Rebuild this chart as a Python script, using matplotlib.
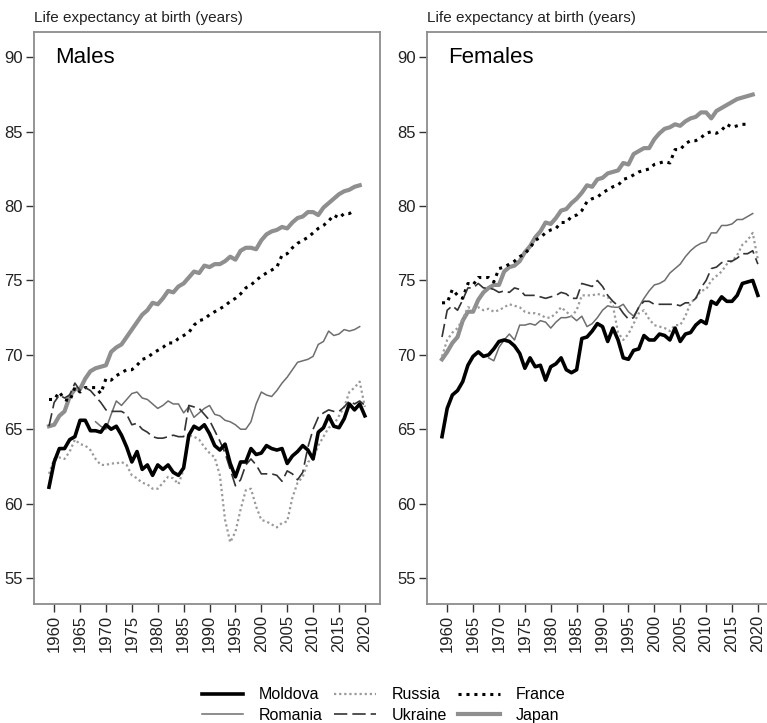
import numpy as np
import matplotlib
matplotlib.use('Agg')
import matplotlib.pyplot as plt

plt.rcParams['font.family'] = ['Liberation Sans', 'DejaVu Sans']

years = np.arange(1959, 2021)
years_ro = np.arange(1968, 2020)

# ---- Males ----
moldova_m = [61.1, 62.8, 63.7, 63.7, 64.3, 64.5, 65.6, 65.6, 64.9, 64.9, 64.8, 65.3, 65.0, 65.2,
             64.6, 63.8, 62.8, 63.5, 62.3, 62.6, 61.9, 62.6, 62.3, 62.6, 62.1, 61.9, 62.4, 64.6,
             65.2, 65.0, 65.3, 64.7, 63.9, 63.6, 64.0, 62.7, 61.8, 62.8, 62.8, 63.7, 63.3, 63.4,
             63.9, 63.7, 63.6, 63.7, 62.7, 63.2, 63.5, 63.9, 63.6, 63.0, 64.8, 65.1, 65.9, 65.2,
             65.1, 65.7, 66.7, 66.3, 66.7, 65.9]
romania_m = [65.5, 65.2, 65.0, 66.0, 66.9, 66.6, 67.0, 67.4, 67.5, 67.1, 67.0, 66.7, 66.4, 66.6,
             66.9, 66.7, 66.7, 66.1, 66.5, 65.8, 66.1, 66.4, 66.6, 66.0, 65.9, 65.6, 65.5, 65.3,
             65.0, 65.0, 65.5, 66.7, 67.5, 67.3, 67.2, 67.6, 68.1, 68.5, 69.0, 69.5, 69.6, 69.7,
             69.9, 70.7, 70.9, 71.6, 71.3, 71.4, 71.7, 71.6, 71.7, 71.9]
russia_m = [62.0, 63.0, 63.1, 63.0, 63.5, 64.3, 64.0, 63.9, 63.6, 63.0, 62.6, 62.6, 62.7, 62.7,
            62.8, 62.6, 61.9, 61.7, 61.4, 61.3, 61.0, 61.0, 61.4, 61.8, 61.7, 61.3, 62.3, 64.6,
            64.5, 64.3, 63.8, 63.4, 63.1, 61.9, 58.9, 57.4, 58.1, 59.6, 60.9, 61.0, 59.8, 58.9,
            58.8, 58.6, 58.4, 58.7, 58.8, 60.4, 61.4, 61.8, 62.8, 63.0, 63.9, 64.5, 65.1, 65.3,
            65.9, 66.5, 67.5, 67.8, 68.2, 66.5]
ukraine_m = [65.2, 66.8, 67.3, 67.1, 67.3, 68.1, 67.6, 67.8, 67.6, 67.2, 66.8, 66.3, 66.2, 66.2,
             66.2, 66.0, 65.3, 65.4, 65.0, 64.8, 64.5, 64.4, 64.4, 64.5, 64.6, 64.5, 64.5, 66.6,
             66.5, 66.4, 66.0, 65.6, 64.9, 64.2, 63.4, 62.3, 61.2, 61.6, 62.6, 63.0, 62.6, 62.0,
             62.0, 62.0, 61.9, 61.5, 62.2, 62.0, 61.6, 62.1, 63.8, 65.0, 65.8, 66.1, 66.3, 66.2,
             66.2, 66.5, 66.9, 66.7, 66.9, 66.6]
france_m = [67.0, 67.0, 67.5, 67.0, 66.9, 67.8, 67.5, 67.8, 67.8, 67.8, 67.4, 68.4, 68.3, 68.6,
            68.8, 69.0, 69.0, 69.3, 69.7, 69.8, 70.1, 70.3, 70.5, 70.8, 70.8, 71.1, 71.3, 71.5,
            72.0, 72.3, 72.4, 72.7, 72.9, 73.1, 73.3, 73.6, 73.8, 74.1, 74.5, 74.7, 75.0, 75.3,
            75.5, 75.7, 75.9, 76.7, 76.8, 77.2, 77.5, 77.7, 77.9, 78.2, 78.5, 78.7, 79.0, 79.4,
            79.2, 79.5, 79.5, 79.7]
japan_m = [65.2, 65.3, 65.9, 66.2, 67.2, 67.7, 67.7, 68.4, 68.9, 69.1, 69.2, 69.3, 70.2, 70.5,
           70.7, 71.2, 71.7, 72.2, 72.7, 73.0, 73.5, 73.4, 73.8, 74.3, 74.2, 74.6, 74.8, 75.2,
           75.6, 75.5, 76.0, 75.9, 76.1, 76.1, 76.3, 76.6, 76.4, 77.0, 77.2, 77.2, 77.1, 77.7,
           78.1, 78.3, 78.4, 78.6, 78.5, 78.9, 79.2, 79.3, 79.6, 79.6, 79.4, 79.9, 80.2, 80.5,
           80.8, 81.0, 81.1, 81.3, 81.4]

# ---- Females ----
moldova_f = [64.5, 66.4, 67.3, 67.6, 68.2, 69.3, 69.9, 70.2, 69.9, 70.0, 70.4, 70.9, 71.0, 70.9,
             70.6, 70.1, 69.1, 69.8, 69.2, 69.3, 68.3, 69.2, 69.4, 69.8, 69.0, 68.8, 69.0, 71.1,
             71.2, 71.6, 72.1, 71.9, 70.9, 71.8, 71.0, 69.8, 69.7, 70.3, 70.4, 71.3, 71.0, 71.0,
             71.4, 71.3, 71.0, 71.8, 70.9, 71.4, 71.5, 72.0, 72.3, 72.1, 73.6, 73.4, 73.9, 73.6,
             73.6, 74.0, 74.8, 74.9, 75.0, 74.0]
romania_f = [69.8, 69.6, 70.5, 71.0, 71.4, 71.0, 72.0, 72.0, 72.1, 72.0, 72.3, 72.2, 71.8, 72.2,
             72.5, 72.5, 72.6, 72.3, 72.6, 71.9, 72.1, 72.5, 73.0, 73.3, 73.2, 73.2, 73.4, 72.9,
             72.6, 73.2, 73.8, 74.3, 74.7, 74.8, 75.0, 75.5, 75.8, 76.1, 76.6, 77.0, 77.3, 77.5,
             77.6, 78.2, 78.2, 78.7, 78.7, 78.8, 79.1, 79.1, 79.3, 79.5]
russia_f = [69.9, 71.0, 71.5, 71.8, 72.4, 73.2, 73.1, 73.2, 73.0, 73.1, 72.9, 73.0, 73.2, 73.4,
            73.3, 73.2, 72.9, 72.8, 72.8, 72.7, 72.5, 72.5, 72.8, 73.2, 72.9, 72.6, 73.0, 74.0,
            74.0, 74.0, 74.1, 74.0, 73.9, 73.3, 71.5, 71.0, 71.4, 72.1, 72.8, 73.0, 72.4, 72.0,
            71.9, 71.8, 71.6, 72.0, 72.0, 72.6, 73.5, 73.8, 74.3, 74.4, 75.0, 75.3, 75.6, 76.1,
            76.3, 76.7, 77.4, 77.7, 78.2, 76.4]
ukraine_f = [71.2, 73.0, 73.3, 73.0, 73.7, 74.5, 74.5, 74.8, 74.5, 74.5, 74.4, 74.2, 74.3, 74.2,
             74.5, 74.4, 74.0, 74.0, 74.0, 73.9, 73.8, 73.9, 74.0, 74.2, 74.1, 73.8, 73.8, 74.8,
             74.7, 74.6, 75.0, 74.6, 74.0, 73.6, 73.3, 72.8, 72.4, 72.5, 73.2, 73.6, 73.6, 73.4,
             73.4, 73.4, 73.4, 73.4, 73.3, 73.5, 73.5, 73.8, 74.5, 75.0, 75.8, 75.9, 76.2, 76.3,
             76.3, 76.5, 76.8, 76.8, 77.0, 76.1]
france_f = [73.5, 73.5, 74.4, 74.0, 73.8, 74.8, 74.7, 75.2, 75.2, 75.2, 74.9, 75.8, 75.9, 76.1,
            76.3, 76.6, 76.8, 77.2, 77.7, 77.9, 78.2, 78.4, 78.5, 78.9, 78.9, 79.3, 79.4, 79.7,
            80.3, 80.5, 80.6, 80.9, 81.1, 81.3, 81.4, 81.8, 81.9, 82.1, 82.3, 82.4, 82.5, 82.8,
            82.9, 83.0, 82.9, 83.8, 83.8, 84.2, 84.4, 84.4, 84.6, 84.9, 85.0, 84.9, 85.1, 85.5,
            85.3, 85.4, 85.5, 85.5]
japan_f = [69.7, 70.2, 70.8, 71.2, 72.3, 72.9, 72.9, 73.7, 74.2, 74.5, 74.7, 74.7, 75.6, 75.9,
           76.0, 76.3, 76.9, 77.3, 77.9, 78.3, 78.9, 78.8, 79.2, 79.7, 79.8, 80.2, 80.5, 80.9,
           81.4, 81.3, 81.8, 81.9, 82.2, 82.3, 82.4, 82.9, 82.8, 83.5, 83.7, 83.9, 83.9, 84.5,
           84.9, 85.2, 85.3, 85.5, 85.4, 85.7, 85.9, 86.0, 86.3, 86.3, 85.9, 86.4, 86.6, 86.8,
           87.0, 87.2, 87.3, 87.4, 87.5]

y_ticks = [55, 60, 65, 70, 75, 80, 85, 90]
x_ticks = list(range(1960, 2021, 5))

fig = plt.figure(figsize=(7.67, 7.23), dpi=100)
ax1 = fig.add_axes([0.0443, 0.1646, 0.451, 0.791])
ax2 = fig.add_axes([0.5567, 0.1646, 0.451, 0.791])

spine_col = '#8c8c8c'


def draw_panel(ax, title, mol, rom, rus, ukr, fra, jap):
    lines = []
    lines += ax.plot(years, mol, color='black', lw=2.6, label='Moldova', zorder=6)
    lines += ax.plot(years_ro, rom, color='#6e6e6e', lw=1.1, label='Romania', zorder=3)
    lines += ax.plot(years, rus, color='#9a9a9a', lw=1.6, ls=(0, (1, 1.3)), label='Russia', zorder=4)
    lines += ax.plot(years, ukr, color='#333333', lw=1.2, ls=(0, (8, 3)), label='Ukraine', zorder=5)
    lines += ax.plot(years[:len(fra)], fra, color='black', lw=2.2, ls=(0, (1, 1.6)), label='France', zorder=4)
    lines += ax.plot(years[:len(jap)], jap, color='#8f8f8f', lw=3.0, label='Japan', zorder=2)
    ax.set_xlim(1956.1, 2022.9)
    ax.set_ylim(53.25, 91.7)
    ax.set_yticks(y_ticks)
    ax.set_xticks(x_ticks)
    ax.set_xticklabels([str(x) for x in x_ticks], rotation=90)
    ax.tick_params(axis='both', labelsize=12, length=6, width=1, color='#333333',
                   labelcolor='#222222', direction='out', pad=2)
    for s in ax.spines.values():
        s.set_color(spine_col)
        s.set_linewidth(1.3)
    ax.text(0.06, 0.956, title, transform=ax.transAxes, fontsize=16, va='center', ha='left')
    ax.text(0.0, 1.012, 'Life expectancy at birth (years)', transform=ax.transAxes,
            fontsize=11, va='bottom', ha='left', color='#222222')
    return lines


handles = draw_panel(ax1, 'Males', moldova_m, romania_m, russia_m, ukraine_m, france_m, japan_m)
draw_panel(ax2, 'Females', moldova_f, romania_f, russia_f, ukraine_f, france_f, japan_f)

fig.legend(handles=handles, loc='lower center', bbox_to_anchor=(0.5, -0.02), ncol=3,
           frameon=False, fontsize=11.5, handlelength=2.6, columnspacing=0.7,
           handletextpad=1.0, labelspacing=0.35)

fig.savefig('out.png', dpi=100)
